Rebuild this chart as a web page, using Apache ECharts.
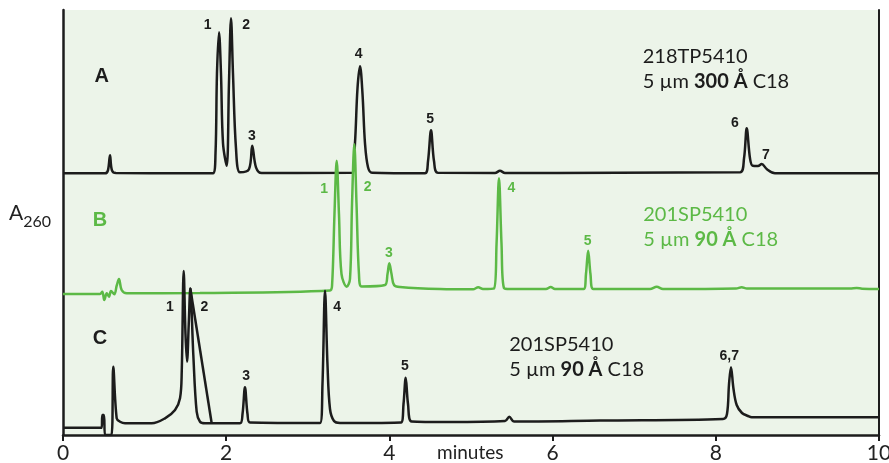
<!DOCTYPE html>
<html>
<head>
<meta charset="utf-8">
<script src="https://cdn.jsdelivr.net/npm/echarts@6/dist/echarts.min.js"></script>
<style>
  html, body { margin: 0; padding: 0; background: #fff; }
  #chart { width: 889px; height: 463px; }
</style>
</head>
<body>
<div id="chart"></div>
<script>
// time (minutes) vs. signal above each trace's own baseline
var traceA = [
  [0, 0], [0.515, 0], [0.551, 3], [0.576, 18], [0.600, 3], [0.650, 0.3],
  [1.838, 0], [1.869, 20], [1.887, 100], [1.912, 141], [1.936, 100], [1.961, 30],
  [2.006, 7.6], [2.034, 90], [2.059, 155], [2.083, 100], [2.120, 25], [2.169, 1],
  [2.279, 4], [2.319, 27.6], [2.365, 6], [2.435, 0.3],
  [3.542, 0.5], [3.578, 30], [3.609, 85], [3.640, 107], [3.670, 80], [3.701, 30], [3.738, 6], [3.787, 0.5],
  [4.436, 0], [4.473, 12], [4.510, 43], [4.547, 12], [4.596, 0.5],
  [5.294, 0.3], [5.355, 2.5], [5.417, 0.3],
  [8.297, 1], [8.346, 15], [8.379, 45], [8.419, 15], [8.452, 7.5], [8.517, 7.3], [8.562, 9.3],
  [8.627, 4], [8.725, 0], [10, 0]
];
var traceB = [
  [0, 0], [0.453, 0], [0.482, 2.3], [0.506, -6], [0.536, 0.7], [0.564, -2.7], [0.588, 3],
  [0.629, -0.3], [0.658, 8.3], [0.686, 15], [0.719, 4], [0.781, 0.7],
  [1.679, 1], [3.272, 3.5], [3.297, 8], [3.327, 80], [3.354, 133.3], [3.382, 80], [3.413, 20],
  [3.477, 7.3], [3.517, 15], [3.542, 90], [3.570, 149.7], [3.597, 90], [3.627, 20], [3.660, 7.5],
  [3.946, 9], [3.977, 20], [3.999, 30.7], [4.026, 20], [4.057, 9], [4.130, 7],
  [4.620, 5], [5.025, 4.7], [5.089, 6.7], [5.147, 5],
  [5.282, 5.5], [5.313, 50], [5.343, 115.7], [5.374, 50], [5.404, 6], [5.478, 5],
  [5.919, 5], [5.977, 7], [6.029, 5],
  [6.381, 5], [6.409, 20], [6.436, 43.3], [6.464, 20], [6.499, 5],
  [7.194, 5], [7.276, 7.3], [7.353, 5], [8.248, 5.5], [8.317, 6.7], [8.382, 5.5],
  [9.645, 5.5], [9.727, 6], [9.792, 5.3], [10, 5]
];
var traceC = [
  [0, -3.7], [0.474, -3.7], [0.482, 9], [0.502, 9], [0.515, -11], [0.594, -11],
  [0.616, 57.3], [0.658, 5.7], [0.699, 2.3], [0.760, 0.7], [1.087, 0.7],
  [1.250, 5.7], [1.373, 14], [1.434, 25.7], [1.455, 52], [1.479, 153], [1.501, 90],
  [1.520, 62.3], [1.541, 100], [1.560, 135.7], [1.597, 69], [1.638, 12.3], [1.679, 2.3],
  [1.740, 0.7], [2.169, 0.7], [2.200, 10], [2.230, 36.7], [2.261, 10], [2.292, 1.5],
  [3.150, 1], [3.180, 40], [3.211, 133.3], [3.241, 60], [3.272, 15], [3.321, 3], [3.395, 1],
  [4.142, 1.5], [4.173, 20], [4.200, 46.3], [4.228, 20], [4.273, 2.5],
  [4.743, 2], [5.417, 3], [5.469, 7.3], [5.527, 2.5], [6.581, 3.5],
  [8.088, 5], [8.137, 10], [8.162, 40], [8.186, 56.7], [8.217, 35], [8.256, 19],
  [8.321, 11], [8.395, 8], [8.440, 6.7], [10, 6.7]
];
// straight drop line drawn from peak 2 of trace C
var traceCDrop = [[1.560, 135.7], [1.822, 0.7]];

var offsetA = 261.7, offsetB = 141, offsetC = 11;

var labelsA = [['1', 1.773, 148.3], ['2', 2.243, 148.3], ['3', 2.316, 37.3], ['4', 3.624, 119.3],
  ['5', 4.498, 54], ['6', 8.235, 50], ['7', 8.615, 18.3]];
var labelsB = [['1', 3.199, 104.7], ['2', 3.734, 107.3], ['3', 3.995, 41.3], ['4', 5.496, 105.7], ['5', 6.428, 53]];
var labelsC = [['1', 1.311, 117.3], ['2', 1.732, 117.3], ['3', 2.243, 48], ['4', 3.361, 117.3],
  ['5', 4.191, 58], ['6,7', 8.165, 68]];

var columnA = ['218TP5410', '300'];
var columnB = ['201SP5410', '90'];
var columnC = ['201SP5410', '90'];

var xTicks = [0, 2, 4, 6, 8, 10];

var BLACK = '#1c1c1c';
var GREEN = '#5cb946';

function shift(arr, off) {
  return arr.map(function (p) { return [p[0], p[1] + off]; });
}

function traceSeries(data, off, color) {
  return {
    type: 'line',
    data: shift(data, off),
    showSymbol: false,
    smooth: 0.35,
    lineStyle: { color: color, width: 2.5 },
    silent: true
  };
}

function labelSeries(labels, off, color, size) {
  return {
    type: 'scatter',
    symbolSize: 0,
    silent: true,
    itemStyle: { opacity: 1 },
    data: labels.map(function (l) { return { value: [l[1], l[2] + off], name: l[0] }; }),
    label: {
      show: true,
      position: 'inside',
      formatter: '{b}',
      color: color,
      opacity: 1,
      fontFamily: 'Liberation Sans',
      fontWeight: 'bold',
      fontSize: size || 14
    }
  };
}

function columnSeries(col, t, v, color) {
  return {
    type: 'scatter',
    symbolSize: 0,
    silent: true,
    itemStyle: { opacity: 1 },
    data: [{ value: [t, v], name: col[0] }],
    label: {
      show: true,
      position: 'right',
      distance: 0,
      align: 'left',
      verticalAlign: 'middle',
      opacity: 1,
      formatter: col[0] + '\n{n|5 µm }{b|' + col[1] + ' Å}{n| C18}',
      color: color,
      fontFamily: 'Lato',
      fontSize: 20,
      lineHeight: 25,
      rich: {
        n: { fontFamily: 'Lato', fontSize: 20, color: color, lineHeight: 25 },
        b: { fontFamily: 'Lato', fontSize: 20, fontWeight: 'bold', color: color, lineHeight: 25 }
      }
    }
  };
}

var chart = echarts.init(document.getElementById('chart'));

chart.setOption({
  animation: false,
  backgroundColor: '#fff',
  grid: {
    left: 63, right: 10, top: 10, bottom: 28,
    outerBoundsMode: 'none',
    containLabel: false,
    show: true, backgroundColor: '#ecf4e9', borderWidth: 0
  },
  xAxis: {
    type: 'value', min: 0, max: 10, interval: 2,
    axisLine: { show: true, onZero: false, lineStyle: { color: BLACK, width: 2.5 } },
    axisTick: { show: true, inside: false, length: 6, lineStyle: { color: BLACK, width: 2 } },
    axisLabel: {
      margin: 8, color: '#222', fontFamily: 'Lato', fontSize: 21,
      formatter: function (v) { return xTicks.indexOf(v) >= 0 ? String(v) : ''; }
    },
    splitLine: { show: false }
  },
  yAxis: [
    {
      type: 'value', min: 0, max: 425, position: 'left',
      axisLine: { show: true, lineStyle: { color: BLACK, width: 2.5 } },
      axisTick: { show: false }, axisLabel: { show: false }, splitLine: { show: false }
    },
    {
      type: 'value', min: 0, max: 425, position: 'right',
      axisLine: { show: true, lineStyle: { color: BLACK, width: 2 } },
      axisTick: { show: false }, axisLabel: { show: false }, splitLine: { show: false }
    }
  ],
  graphic: [
    {
      type: 'text', left: 9, top: 203,
      style: {
        text: '{a|A}{s|260}',
        rich: {
          a: { fontFamily: 'Lato', fontSize: 21, fill: '#222', verticalAlign: 'bottom' },
          s: { fontFamily: 'Lato', fontSize: 16, fill: '#222', verticalAlign: 'bottom', padding: [0, 0, -6, 0] }
        }
      }
    },
    {
      type: 'text', left: 437, top: 443,
      style: { text: 'minutes', fontFamily: 'Lato', fontSize: 19, fill: '#222' }
    }
  ],
  series: [
    traceSeries(traceA, offsetA, BLACK),
    traceSeries(traceB, offsetB, GREEN),
    traceSeries(traceC, offsetC, BLACK),
    {
      type: 'line', data: shift(traceCDrop, offsetC), showSymbol: false, silent: true,
      lineStyle: { color: BLACK, width: 2.5 }
    },
    labelSeries(labelsA, offsetA, BLACK),
    labelSeries(labelsB, offsetB, GREEN),
    labelSeries(labelsC, offsetC, BLACK),
    labelSeries([['A', 0.474, 96.6]], offsetA, BLACK, 20),
    labelSeries([['B', 0.453, 74]], offsetB, GREEN, 20),
    labelSeries([['C', 0.453, 85.7]], offsetC, BLACK, 20),
    columnSeries(columnA, 7.104, 104.1 + offsetA, BLACK),
    columnSeries(columnB, 7.111, 66.5 + offsetB, GREEN),
    columnSeries(columnC, 5.469, 66.5 + offsetC, BLACK)
  ]
});
</script>
</body>
</html>
